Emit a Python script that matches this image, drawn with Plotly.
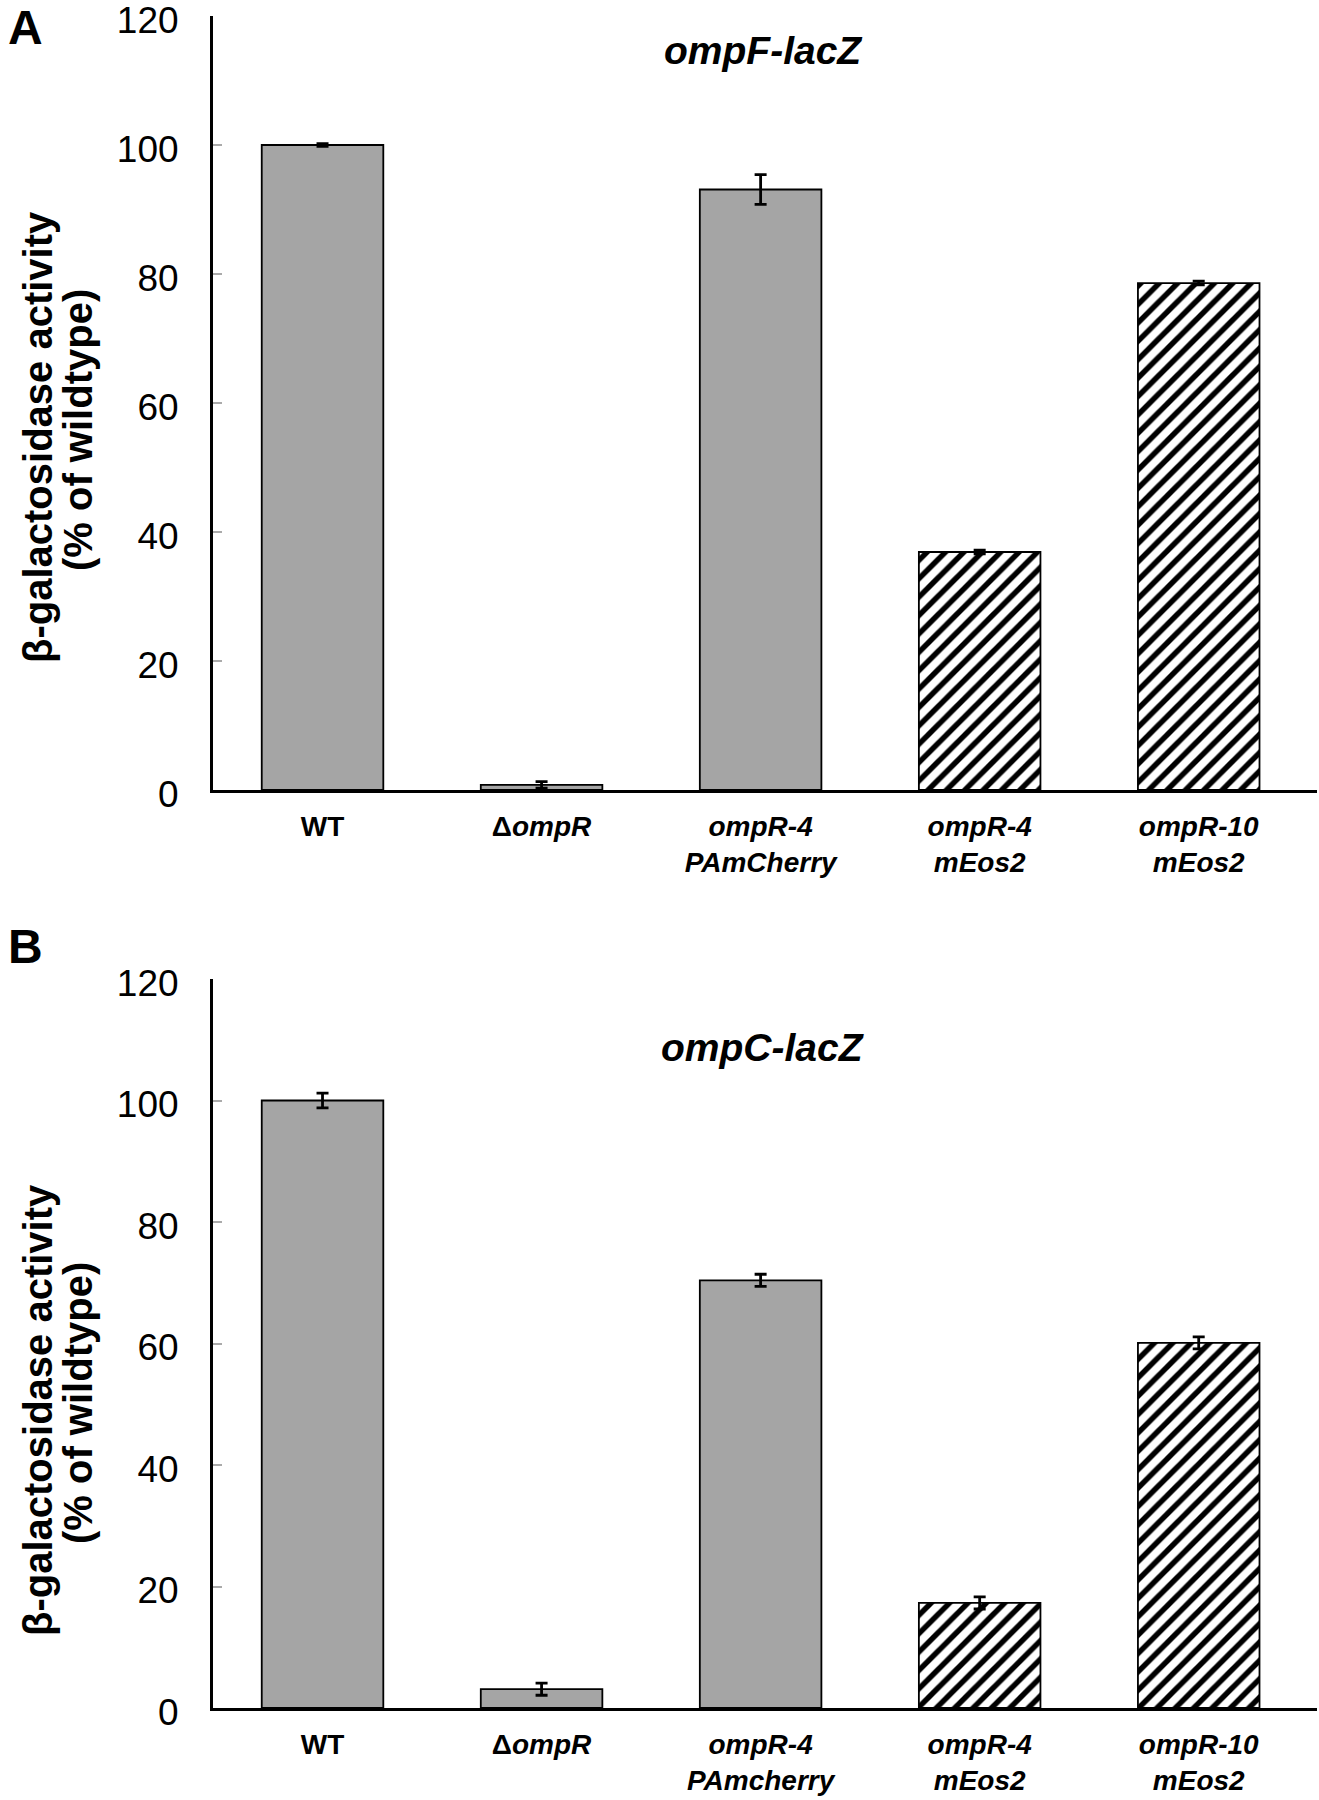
import plotly.graph_objects as go

# ---- data ----
categories = ["WT", "ΔompR", "ompR-4 PAmCherry", "ompR-4 mEos2", "ompR-10 mEos2"]
ticktext_A = ["<b>WT</b>", "<b>Δ<i>ompR</i></b>", "<b><i>ompR-4<br>PAmCherry</i></b>",
              "<b><i>ompR-4<br>mEos2</i></b>", "<b><i>ompR-10<br>mEos2</i></b>"]
ticktext_B = ["<b>WT</b>", "<b>Δ<i>ompR</i></b>", "<b><i>ompR-4<br>PAmcherry</i></b>",
              "<b><i>ompR-4<br>mEos2</i></b>", "<b><i>ompR-10<br>mEos2</i></b>"]
ompF_values = [100.0, 0.8, 93.1, 36.9, 78.6]
ompF_errors = [0.2, 0.5, 2.3, 0.3, 0.3]
ompC_values = [100.0, 3.1, 70.4, 17.3, 60.1]
ompC_errors = [1.2, 1.0, 1.0, 1.0, 1.0]
hatched = [False, False, False, True, True]
yticks = [0, 20, 40, 60, 80, 100, 120]

W, H = 1319, 1800
FONT = "Liberation Sans, Arial, sans-serif"

def px_x(p):
    return p / W

def px_y(p):
    return 1 - p / H

fig = go.Figure()

def add_panel(values, errors, xa, ya):
    solid_idx = [i for i, h in enumerate(hatched) if not h]
    hatch_idx = [i for i, h in enumerate(hatched) if h]
    fig.add_trace(go.Bar(
        x=[categories[i] for i in solid_idx], y=[values[i] for i in solid_idx],
        xaxis=xa, yaxis=ya, width=0.555, opacity=1,
        marker=dict(color="#a5a5a5", opacity=1, line=dict(color="black", width=1.8)),
        error_y=dict(type="data", array=[errors[i] for i in solid_idx], color="black",
                     thickness=2.8, width=6),
        showlegend=False,
    ))
    fig.add_trace(go.Bar(
        x=[categories[i] for i in hatch_idx], y=[values[i] for i in hatch_idx],
        xaxis=xa, yaxis=ya, width=0.555, opacity=1,
        marker=dict(color="white", opacity=1, line=dict(color="black", width=1.8),
                    pattern=dict(shape="/", fillmode="replace", fgcolor="#000000",
                                 bgcolor="#ffffff", fgopacity=1, size=13, solidity=0.42)),
        error_y=dict(type="data", array=[errors[i] for i in hatch_idx], color="black",
                     thickness=2.8, width=6),
        showlegend=False,
    ))

add_panel(ompF_values, ompF_errors, "x", "y")
add_panel(ompC_values, ompC_errors, "x2", "y2")

xdom = [px_x(213), px_x(1317)]
common_x = dict(
    type="category", categoryorder="array", categoryarray=categories,
    range=[-0.5, 4.54], showline=True, linecolor="black", linewidth=3,
    ticks="", showgrid=False, zeroline=False, ticklabelstandoff=9, automargin=False,
    tickfont=dict(family=FONT, size=28, color="black"), tickvals=categories,
)
common_y = dict(
    range=[0, 120], tickvals=yticks, showline=True, linecolor="black", linewidth=3,
    ticks="inside", ticklen=9, tickcolor="#aaaaaa", tickwidth=1.5, showgrid=False,
    zeroline=False, tickfont=dict(family=FONT, size=37, color="black"),
    ticklabelstandoff=24, ticklabelshift=4, automargin=False, ticklabeloverflow="allow",
)

fig.update_layout(
    width=W, height=H, margin=dict(l=0, r=0, t=0, b=0, autoexpand=False),
    plot_bgcolor="white", paper_bgcolor="white", barmode="overlay",
    xaxis=dict(domain=xdom, anchor="y", ticktext=ticktext_A, **common_x),
    yaxis=dict(domain=[px_y(790), px_y(16)], anchor="x", **common_y),
    xaxis2=dict(domain=xdom, anchor="y2", ticktext=ticktext_B, **common_x),
    yaxis2=dict(domain=[px_y(1708), px_y(979)], anchor="x2", **common_y),
)

ann = []
# panel letters
ann.append(dict(text="<b>A</b>", x=px_x(6), y=px_y(27), xanchor="left", yanchor="middle",
                font=dict(family=FONT, size=48, color="black")))
ann.append(dict(text="<b>B</b>", x=px_x(6), y=px_y(946), xanchor="left", yanchor="middle",
                font=dict(family=FONT, size=48, color="black")))
# titles
ann.append(dict(text="<b><i>ompF-lacZ</i></b>", x=px_x(763), y=px_y(50), xanchor="center",
                yanchor="middle", font=dict(family=FONT, size=39, color="black")))
ann.append(dict(text="<b><i>ompC-lacZ</i></b>", x=px_x(763), y=px_y(1047), xanchor="center",
                yanchor="middle", font=dict(family=FONT, size=39, color="black")))
# y-axis titles (two tightly spaced lines)
for yc in (437, 1410):
    ann.append(dict(text="<b>β-galactosidase activity</b>", x=px_x(38), y=px_y(yc),
                    xanchor="center", yanchor="middle", textangle=-90,
                    font=dict(family=FONT, size=40, color="black")))
    ann.append(dict(text="<b>(% of wildtype)</b>", x=px_x(78), y=px_y(yc - 7),
                    xanchor="center", yanchor="middle", textangle=-90,
                    font=dict(family=FONT, size=40, color="black")))
for a in ann:
    a.update(xref="paper", yref="paper", showarrow=False)
fig.update_layout(annotations=ann)

fig.write_html("out.html", config={"displayModeBar": False},
               post_script="document.body.style.margin='0';document.body.style.overflow='hidden';")
